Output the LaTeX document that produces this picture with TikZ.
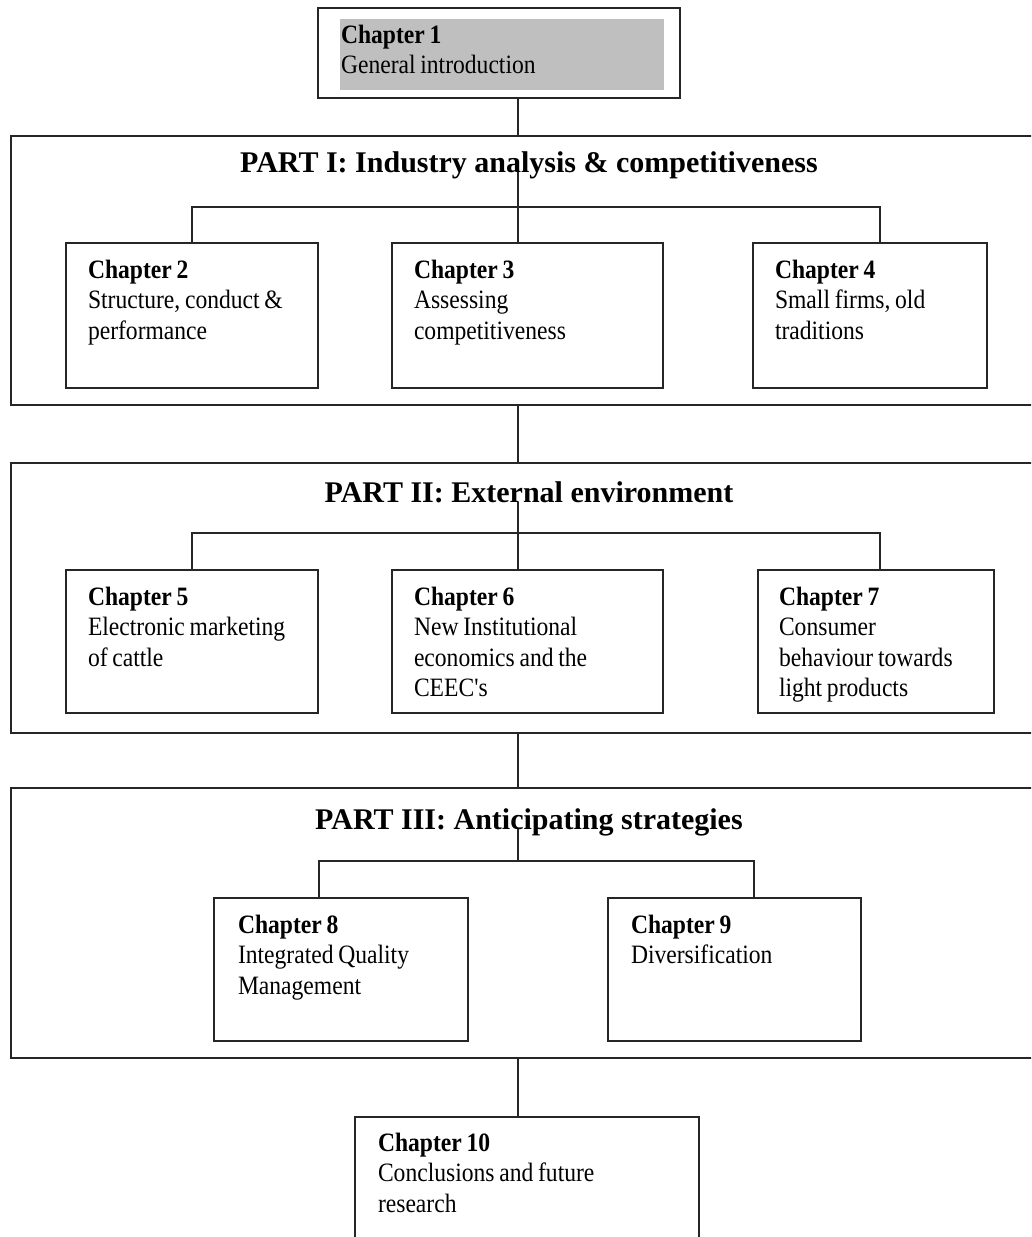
\documentclass[tikz,border=0pt]{standalone}
\usepackage{fontspec}
\setmainfont{Liberation Serif}
\newfontfamily\chapfont{Liberation Serif}[FakeStretch=0.89, WordSpace=0.8]
\usepackage{tikz}
\usetikzlibrary{positioning, calc}

\begin{document}
\begin{tikzpicture}[
  x=1pt, y=-1pt,
  every node/.style={inner sep=0pt, outer sep=0pt},
  chapbox/.style={draw=black!85, line width=1.6pt, anchor=north west, rectangle},
  partbox/.style={draw=black!85, line width=1.6pt, anchor=north west, rectangle},
  chaptext/.style={anchor=base west, text width=250pt, align=left, font=\chapfont\fontsize{26.5}{30.5}\selectfont,
    execute at begin node={\spaceskip=0pt\xspaceskip=0pt}},
  parttitle/.style={anchor=base, font=\fontsize{30}{36}\selectfont\bfseries},
  conn/.style={draw=black!85, line width=1.3pt}
]
\path[use as bounding box, clip] (0,0) rectangle (1031,1237);
\coordinate (spine) at (518,0);

% Chapter 1 -- shaded inner field
\node[chapbox, minimum width=362, minimum height=90] (ch1) at (318,8) {};
\node[anchor=north west, fill=black!25, minimum width=324, minimum height=71] (ch1fill) at (340,19) {};
\node[chaptext] (ch1txt) at ([shift={(23,35)}]ch1.north west) {\textbf{Chapter 1}\\General introduction};

% Part I
\node[partbox, minimum width=1036, minimum height=269] (part1) at (11,136) {};
\node[parttitle] (t1) at (529,172) {PART I: Industry analysis \& competitiveness};
\node[chapbox, minimum width=252, minimum height=145] (ch2) at (66,243) {};
\node[chapbox, minimum width=271, minimum height=145] (ch3) at (392,243) {};
\node[chapbox, minimum width=234, minimum height=145] (ch4) at (753,243) {};
\node[chaptext] (ch2txt) at ([shift={(22,35)}]ch2.north west) {\textbf{Chapter 2}\\Structure, conduct \&\\performance};
\node[chaptext] (ch3txt) at ([shift={(22,35)}]ch3.north west) {\textbf{Chapter 3}\\Assessing\\competitiveness};
\node[chaptext] (ch4txt) at ([shift={(22,35)}]ch4.north west) {\textbf{Chapter 4}\\Small firms, old\\traditions};
\coordinate (bar1l) at (192,207);
\coordinate (bar1r) at (880,207);

% Part II
\node[partbox, minimum width=1036, minimum height=270] (part2) at (11,463) {};
\node[parttitle] (t2) at (529,502) {PART II: External environment};
\node[chapbox, minimum width=252, minimum height=143] (ch5) at (66,570) {};
\node[chapbox, minimum width=271, minimum height=143] (ch6) at (392,570) {};
\node[chapbox, minimum width=236, minimum height=143] (ch7) at (758,570) {};
\node[chaptext] (ch5txt) at ([shift={(22,35)}]ch5.north west) {\textbf{Chapter 5}\\Electronic marketing\\of cattle};
\node[chaptext] (ch6txt) at ([shift={(22,35)}]ch6.north west) {\textbf{Chapter 6}\\New Institutional\\economics and the\\CEEC's};
\node[chaptext] (ch7txt) at ([shift={(21,35)}]ch7.north west) {\textbf{Chapter 7}\\Consumer\\behaviour towards\\light products};
\coordinate (bar2l) at (192,533);
\coordinate (bar2r) at (880,533);

% Part III
\node[partbox, minimum width=1036, minimum height=270] (part3) at (11,788) {};
\node[parttitle] (t3) at (529,829) {PART III: Anticipating strategies};
\node[chapbox, minimum width=254, minimum height=143] (ch8) at (214,898) {};
\node[chapbox, minimum width=253, minimum height=143] (ch9) at (608,898) {};
\node[chaptext] (ch8txt) at ([shift={(24,35)}]ch8.north west) {\textbf{Chapter 8}\\Integrated Quality\\Management};
\node[chaptext] (ch9txt) at ([shift={(23,35)}]ch9.north west) {\textbf{Chapter 9}\\Diversification};
\coordinate (bar3l) at (319,861);
\coordinate (bar3r) at (754,861);

% Chapter 10
\node[chapbox, minimum width=344, minimum height=140] (ch10) at (355,1117) {};
\node[chaptext] (ch10txt) at ([shift={(23,34)}]ch10.north west) {\textbf{Chapter 10}\\Conclusions and future\\research};

% Connectors
\draw[conn] (ch1.south -| spine) -- (part1.north -| spine);
\draw[conn] (t1.base -| spine) -- (ch3.north -| spine);
\draw[conn] (ch2.north -| bar1l) -- (bar1l) -- (bar1r) -- (ch4.north -| bar1r);
\draw[conn] (part1.south -| spine) -- (part2.north -| spine);
\draw[conn] (t2.base -| spine) -- (ch6.north -| spine);
\draw[conn] (ch5.north -| bar2l) -- (bar2l) -- (bar2r) -- (ch7.north -| bar2r);
\draw[conn] (part2.south -| spine) -- (part3.north -| spine);
\draw[conn] (t3.base -| spine) -- (bar3l -| spine);
\draw[conn] (ch8.north -| bar3l) -- (bar3l) -- (bar3r) -- (ch9.north -| bar3r);
\draw[conn] (part3.south -| spine) -- (ch10.north -| spine);

\end{tikzpicture}
\end{document}
